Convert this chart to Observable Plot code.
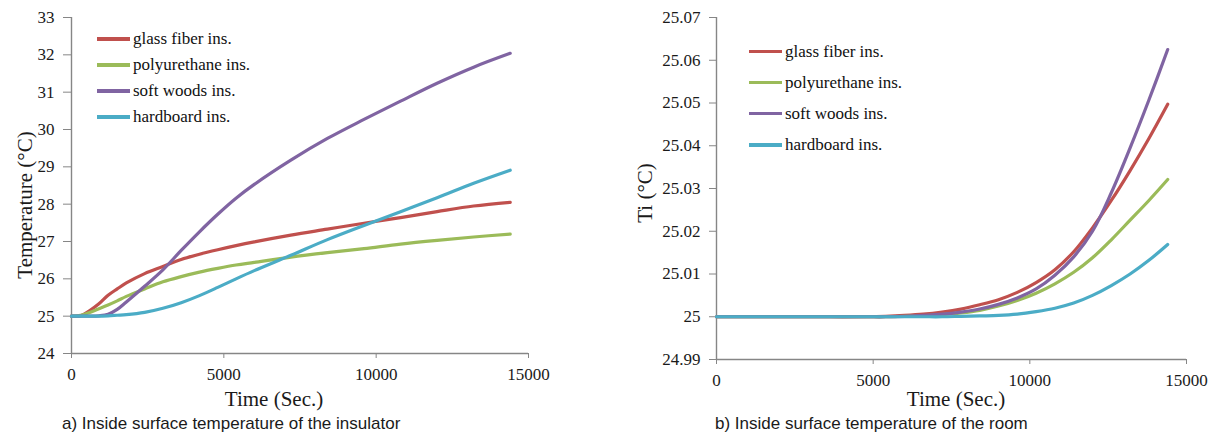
<!DOCTYPE html>
<html>
<head>
<meta charset="utf-8">
<script src="https://cdn.jsdelivr.net/npm/d3@7"></script>
<script src="https://cdn.jsdelivr.net/npm/@observablehq/plot@0.6"></script>
<style>
  html, body { margin: 0; padding: 0; background: #fff; }
  #page { position: relative; width: 1217px; height: 438px; overflow: hidden; background: #fff; }
  .chart { position: absolute; top: 0; }
  .serif { font-family: "Liberation Serif", "Times New Roman", serif; color: #1a1a1a; }
  .sans { font-family: "Liberation Sans", Arial, sans-serif; color: #1a1a1a; }
  .abs { position: absolute; white-space: nowrap; }
  .legend { position: absolute; font-family: "Liberation Serif", "Times New Roman", serif; font-size: 17px; color: #111; }
  .legend .row { display: flex; align-items: center; }
  .legend .sw { display: inline-block; width: 33px; height: 3.5px; margin-right: 3px; }
</style>
</head>
<body>
<div id="page"></div>
<script>
// ---------- data ----------
const seriesNames = ["glass fiber ins.", "polyurethane ins.", "soft woods ins.", "hardboard ins."];
const seriesColors = ["#C0504D", "#9BBB59", "#8064A2", "#4BACC6"];

// (a) inside surface temperature of the insulator
const timeA  = [0, 300, 600, 900, 1200, 1500, 1800, 2400, 3000, 3600, 4200, 4800, 5400, 6000, 7200, 8400, 9600, 10800, 12000, 13200, 14400];
const glassA = [25.0, 25.01, 25.15, 25.33, 25.56, 25.73, 25.89, 26.14, 26.33, 26.52, 26.66, 26.78, 26.89, 26.99, 27.17, 27.33, 27.49, 27.64, 27.80, 27.95, 28.05];
const polyA  = [25.0, 25.02, 25.10, 25.20, 25.30, 25.41, 25.53, 25.73, 25.92, 26.06, 26.18, 26.28, 26.37, 26.44, 26.58, 26.70, 26.81, 26.93, 27.03, 27.12, 27.20];
const softA  = [25.0, 25.0, 25.0, 25.01, 25.05, 25.18, 25.38, 25.80, 26.24, 26.76, 27.26, 27.73, 28.16, 28.53, 29.18, 29.76, 30.27, 30.76, 31.24, 31.67, 32.04];
const hardA  = [25.0, 25.0, 25.0, 25.0, 25.01, 25.025, 25.04, 25.10, 25.21, 25.36, 25.55, 25.77, 26.00, 26.22, 26.63, 27.05, 27.43, 27.80, 28.17, 28.56, 28.91];

// (b) inside surface temperature of the room (Ti)
const timeB  = [0, 1200, 2400, 3600, 4800, 5400, 6000, 6600, 7200, 7800, 8400, 9000, 9600, 10200, 10800, 11400, 12000, 12600, 13200, 13800, 14400];
const glassB = [25, 25, 25, 25, 25.0000, 25.0001, 25.0003, 25.0006, 25.0011, 25.0018, 25.0028, 25.0040, 25.0057, 25.0080, 25.0110, 25.0152, 25.0208, 25.0272, 25.0342, 25.0417, 25.0497];
const polyB  = [25, 25, 25, 25, 25, 25, 25.0001, 25.0002, 25.0005, 25.0009, 25.0015, 25.0025, 25.0038, 25.0055, 25.0077, 25.0104, 25.0138, 25.0180, 25.0226, 25.0272, 25.0321];
const softB  = [25, 25, 25, 25, 25, 25, 25.0001, 25.0003, 25.0006, 25.0011, 25.0018, 25.0029, 25.0044, 25.0065, 25.0097, 25.0140, 25.0200, 25.0290, 25.0395, 25.0507, 25.0625];
const hardB  = [25, 25, 25, 25, 25, 25, 25, 25, 25, 25.0001, 25.0002, 25.0003, 25.0006, 25.0012, 25.0020, 25.0032, 25.0050, 25.0073, 25.0100, 25.0132, 25.0169];

// ticks / labels
const xTicks  = [0, 5000, 10000, 15000];
const yTicksA = [24, 25, 26, 27, 28, 29, 30, 31, 32, 33];
const yTicksB = [24.99, 25, 25.01, 25.02, 25.03, 25.04, 25.05, 25.06, 25.07];
const xTitle = "Time (Sec.)";
const yTitleA = "Temperature (°C)";
const yTitleB = "Ti (°C)";
const captionA = "a) Inside surface temperature of the insulator";
const captionB = "b) Inside surface temperature of the room";

// ---------- build ----------
function tidy(time, cols) {
  const out = [];
  cols.forEach((vals, i) => vals.forEach((v, j) => out.push({t: time[j], v, s: seriesNames[i]})));
  return out;
}
const dataA = tidy(timeA, [glassA, polyA, softA, hardA]);
const dataB = tidy(timeB, [glassB, polyB, softB, hardB]);

const AXIS = "#868686";

function makeChart(data, o) {
  return Plot.plot({
    width: o.width, height: 438,
    marginLeft: o.ml, marginRight: o.mr, marginTop: 17, marginBottom: o.mb,
    style: {fontFamily: '"Liberation Serif", "Times New Roman", serif', fontSize: "17px", color: "#1a1a1a", background: "transparent", overflow: "visible"},
    x: {domain: [0, 15000]},
    y: {domain: o.ydomain},
    color: {domain: seriesNames, range: seriesColors},
    marks: [
      Plot.axisX({ticks: xTicks, tickSize: 5, tickPadding: 9, label: null, stroke: AXIS, fill: "#1a1a1a", tickFormat: d => String(d)}),
      Plot.axisY({ticks: o.yticks, tickSize: o.ts, tickPadding: o.tp, label: null, stroke: AXIS, fill: "#1a1a1a", tickFormat: o.fmt}),
      Plot.ruleX([0], {stroke: AXIS, strokeWidth: 1.4}),
      Plot.ruleY([o.ydomain[0]], {stroke: AXIS, strokeWidth: 1.4}),
      Plot.line(data, {x: "t", y: "v", z: "s", stroke: "s", strokeWidth: 3.2, curve: "catmull-rom", strokeLinecap: "round"})
    ]
  });
}

const page = document.getElementById("page");

const cA = makeChart(dataA, {width: 560, ml: 71, mr: 32, mb: 85, ydomain: [24, 33], yticks: yTicksA, ts: 8, tp: 9, fmt: d => String(d)});
const wA = document.createElement("div"); wA.className = "chart"; wA.style.left = "0px"; wA.appendChild(cA); page.appendChild(wA);

const cB = makeChart(dataB, {width: 607, ml: 106, mr: 31, mb: 79, ydomain: [24.99, 25.07], yticks: yTicksB, ts: 7, tp: 9, fmt: d => String(+d.toFixed(2))});
const wB = document.createElement("div"); wB.className = "chart"; wB.style.left = "610px"; wB.appendChild(cB); page.appendChild(wB);

function addText(txt, cls, css) {
  const d = document.createElement("div");
  d.className = "abs " + cls;
  d.textContent = txt;
  Object.assign(d.style, css);
  page.appendChild(d);
  return d;
}
// axis titles
addText(xTitle, "serif", {left: "274px", top: "387px", fontSize: "21px", transform: "translateX(-50%)"});
addText(xTitle, "serif", {left: "956px", top: "387px", fontSize: "21px", transform: "translateX(-50%)"});
addText(yTitleA, "serif", {left: "25px", top: "205px", fontSize: "21px", transform: "translate(-50%,-50%) rotate(-90deg)"});
addText(yTitleB, "serif", {left: "645px", top: "193px", fontSize: "21px", transform: "translate(-50%,-50%) rotate(-90deg)"});
// captions
addText(captionA, "sans", {left: "62px", top: "414px", fontSize: "17px"});
addText(captionB, "sans", {left: "715px", top: "414px", fontSize: "17px"});

// legends
function addLegend(left, top, rowH) {
  const L = document.createElement("div");
  L.className = "legend";
  L.style.left = left + "px"; L.style.top = top + "px";
  seriesNames.forEach((n, i) => {
    const r = document.createElement("div");
    r.className = "row"; r.style.height = rowH + "px";
    const sw = document.createElement("span"); sw.className = "sw"; sw.style.background = seriesColors[i];
    const tx = document.createElement("span"); tx.textContent = n;
    r.appendChild(sw); r.appendChild(tx); L.appendChild(r);
  });
  page.appendChild(L);
}
addLegend(97, 26, 26);
addLegend(749, 36, 31.1);
</script>
</body>
</html>
